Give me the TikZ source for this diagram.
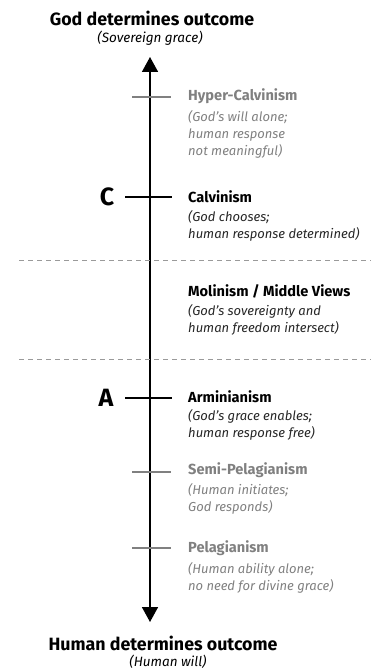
\documentclass[tikz,border=0pt]{standalone}
\usepackage{fontspec}
\setmainfont{Fira Sans}
\usetikzlibrary{arrows.meta}
\definecolor{faded}{HTML}{808080}
\begin{document}
\begin{tikzpicture}[x=1pt,y=-1pt,
  heading/.style={font=\bfseries\fontsize{17.8}{20}\selectfont},
  subhead/.style={font=\itshape\fontsize{13.5}{16}\selectfont},
  view/.style={anchor=west, inner sep=0pt, font=\bfseries\fontsize{14.6}{17}\selectfont},
  note/.style={anchor=west, inner sep=0pt, align=left, font=\itshape\fontsize{13}{17}\selectfont},
  letter/.style={font=\bfseries\fontsize{25}{28}\selectfont},
  tickmark/.style={line width=1.3pt}]
\useasboundingbox (0,0) rectangle (371,669);

\node[heading] (god) at (152,18) {God determines outcome};
\node[subhead] (grace) at (150,38) {(Sovereign grace)};
\node[heading] (human) at (163,643) {Human determines outcome};
\node[subhead] (will) at (168,662) {(Human will)};

\coordinate (up) at (150,57);
\coordinate (down) at (150,622);
\draw[line width=1.6pt, {Triangle[length=15pt,width=16pt]}-{Triangle[length=15pt,width=16pt]}] (down) -- (up);

\draw[faded!80, line width=0.8pt, dash pattern=on 5pt off 4pt] (19,260) -- (371,260);
\draw[faded!80, line width=0.8pt, dash pattern=on 5pt off 4pt] (19,359) -- (371,359);

\draw[tickmark, faded] (132,97) -- (171,97);
\draw[tickmark] (125,197) -- (172,197);
\draw[tickmark] (125,398) -- (172,398);
\draw[tickmark, faded] (132,472) -- (171,472);
\draw[tickmark, faded] (132,548) -- (171,548);

\node[letter] (C) at (107,197) {C};
\node[letter] (A) at (106,398) {A};

\node[view, text=faded] (hyper) at (188,96) {Hyper-Calvinism};
\node[note, text=faded] (hypernote) at (188,134) {(God's will alone;\\human response\\not meaningful)};
\node[view] (calv) at (188,197) {Calvinism};
\node[note, text=black!85] (calvnote) at (188,225.5) {(God chooses;\\human response determined)};
\node[view] (mol) at (188,291) {Molinism / Middle Views};
\node[note, text=black!85] (molnote) at (188,319.5) {(God's sovereignty and\\human freedom intersect)};
\node[view] (arm) at (188,397) {Arminianism};
\node[note, text=black!85] (armnote) at (188,425) {(God's grace enables;\\human response free)};
\node[view, text=faded] (semi) at (188,470) {Semi-Pelagianism};
\node[note, text=faded] (seminote) at (188,498.5) {(Human initiates;\\God responds)};
\node[view, text=faded] (pel) at (188,548) {Pelagianism};
\node[note, text=faded] (pelnote) at (188,578) {(Human ability alone;\\no need for divine grace)};
\end{tikzpicture}
\end{document}
